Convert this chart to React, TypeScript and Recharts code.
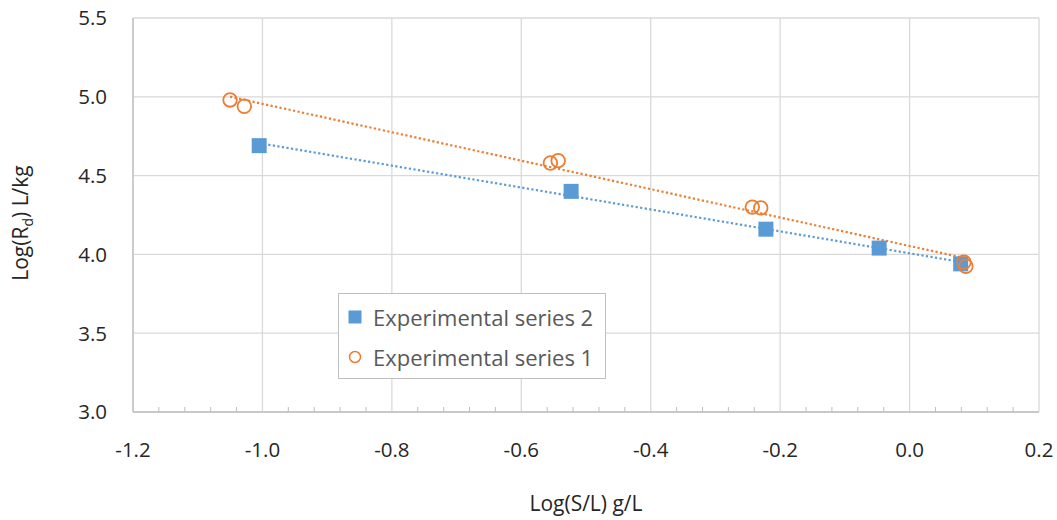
import React from 'react';
import { ScatterChart, Scatter, XAxis, YAxis, CartesianGrid, Legend } from 'recharts';

const series2Name = 'Experimental series 2';
const series2X = [-1.005, -0.523, -0.222, -0.047, 0.079];
const series2Y = [4.69, 4.4, 4.16, 4.04, 3.94];

const series1Name = 'Experimental series 1';
const series1X = [-1.05, -1.028, -0.555, -0.543, -0.243, -0.23, 0.084, 0.087];
const series1Y = [4.98, 4.94, 4.58, 4.595, 4.3, 4.295, 3.95, 3.925];

const xMajorTicks = [-1.2, -1.0, -0.8, -0.6, -0.4, -0.2, 0.0, 0.2];
const xMinorTicks = [
  -1.16, -1.12, -1.08, -1.04, -0.96, -0.92, -0.88, -0.84, -0.76, -0.72, -0.68, -0.64,
  -0.56, -0.52, -0.48, -0.44, -0.36, -0.32, -0.28, -0.24, -0.16, -0.12, -0.08, -0.04,
  0.04, 0.08, 0.12, 0.16,
];
const yTicks = [3.0, 3.5, 4.0, 4.5, 5.0, 5.5];

const xTitle = 'Log(S/L) g/L';
const yTitleMain = 'Log(R';
const yTitleSub = 'd';
const yTitleEnd = ') L/kg';

const BLUE = '#5B9BD5';
const ORANGE = '#ED7D31';
const FONT = '"Open Sans", sans-serif';
const TEXT = '#262626';
const TICK_MARGIN = 30;

const toPoints = (xs: number[], ys: number[]) => xs.map((x, i) => ({ x, y: ys[i] }));

// Linear least-squares trendline over the data range (like Excel's linear trendline)
const trend = (xs: number[], ys: number[]) => {
  const n = xs.length;
  const mx = xs.reduce((a, b) => a + b, 0) / n;
  const my = ys.reduce((a, b) => a + b, 0) / n;
  let sxy = 0;
  let sxx = 0;
  for (let i = 0; i < n; i++) {
    sxy += (xs[i] - mx) * (ys[i] - my);
    sxx += (xs[i] - mx) * (xs[i] - mx);
  }
  const b = sxy / sxx;
  const a = my - b * mx;
  const x0 = Math.min(...xs);
  const x1 = Math.max(...xs);
  return [
    { x: x0, y: a + b * x0 },
    { x: x1, y: a + b * x1 },
  ];
};

const data2 = toPoints(series2X, series2Y);
const data1 = toPoints(series1X, series1Y);
const trend2 = trend(series2X, series2Y);
const trend1 = trend(series1X, series1Y);
const allXTicks = [...xMajorTicks, ...xMinorTicks].sort((a, b) => a - b);

const isMajor = (v: number) => xMajorTicks.some((m) => Math.abs(m - v) < 1e-9);

const XTick = (props: any) => {
  const { x, y, payload } = props;
  const v = payload.value as number;
  const axisY = y - TICK_MARGIN;
  if (isMajor(v)) {
    return (
      <text x={x} y={y} dy="0.71em" textAnchor="middle" fontFamily={FONT} fontSize={20.5} fill={TEXT}>
        {v.toFixed(1)}
      </text>
    );
  }
  return <line x1={x} x2={x} y1={axisY} y2={axisY - 5} stroke="#bfbfbf" strokeWidth={1} />;
};

const YTick = (props: any) => {
  const { x, y, payload } = props;
  return (
    <text x={x} y={y} dy="0.36em" textAnchor="end" fontFamily={FONT} fontSize={20.5} fill={TEXT}>
      {(payload.value as number).toFixed(1)}
    </text>
  );
};

const SquareShape = (props: any) => {
  const { cx, cy } = props;
  return <rect x={cx - 7.5} y={cy - 7.5} width={15} height={15} fill={BLUE} />;
};

const CircleShape = (props: any) => {
  const { cx, cy } = props;
  return <circle cx={cx} cy={cy} r={6.8} fill="none" stroke={ORANGE} strokeWidth={1.8} />;
};

const NoShape = () => <g />;

const LegendBox = () => (
  <div
    style={{
      width: 268,
      height: 86,
      boxSizing: 'border-box',
      border: '1px solid #bfbfbf',
      background: '#ffffff',
      paddingTop: 3,
      paddingLeft: 9,
      fontFamily: FONT,
      fontSize: 22,
      color: '#595959',
    }}
  >
    <div style={{ height: 40, display: 'flex', alignItems: 'center' }}>
      <svg width={14} height={14} style={{ marginRight: 11 }}>
        <rect x={0.5} y={0.5} width={13} height={13} fill={BLUE} />
      </svg>
      <span>{series2Name}</span>
    </div>
    <div style={{ height: 40, display: 'flex', alignItems: 'center' }}>
      <svg width={14} height={14} style={{ marginRight: 11 }}>
        <circle cx={7} cy={7} r={5.5} fill="none" stroke={ORANGE} strokeWidth={1.5} />
      </svg>
      <span>{series1Name}</span>
    </div>
  </div>
);

const XLabel = (props: any) => {
  const vb = props.viewBox || {};
  return (
    <text
      x={vb.x + vb.width / 2}
      y={vb.y + 99}
      textAnchor="middle"
      fontFamily={FONT}
      fontSize={21}
      fill={TEXT}
    >
      {xTitle}
    </text>
  );
};

const YLabel = (props: any) => {
  const vb = props.viewBox || {};
  const cx = vb.x + 28;
  const cy = vb.y + vb.height / 2 + 8;
  return (
    <text
      transform={`translate(${cx}, ${cy}) rotate(-90)`}
      textAnchor="middle"
      fontFamily={FONT}
      fontSize={21}
      fill={TEXT}
    >
      {yTitleMain}
      <tspan fontSize={14} dy={5}>
        {yTitleSub}
      </tspan>
      <tspan dy={-5}>{yTitleEnd}</tspan>
    </text>
  );
};

export default function App() {
  return (
    <div style={{ position: 'absolute', left: 0, top: 0, width: 1057, height: 520, background: '#fff' }}>
      <ScatterChart width={1057} height={520} margin={{ top: 18, right: 18, bottom: 0, left: 0 }}>
        <CartesianGrid stroke="#d9d9d9" strokeWidth={1.3} verticalValues={xMajorTicks} />
        <XAxis
          type="number"
          dataKey="x"
          domain={[-1.2, 0.2]}
          ticks={allXTicks}
          interval={0}
          allowDataOverflow
          height={108}
          tickSize={0}
          tickMargin={TICK_MARGIN}
          tickLine={false}
          axisLine={{ stroke: '#bfbfbf', strokeWidth: 1.3 }}
          tick={<XTick />}
          label={<XLabel />}
        />
        <YAxis
          type="number"
          dataKey="y"
          domain={[3, 5.5]}
          ticks={yTicks}
          interval={0}
          allowDataOverflow
          width={133}
          tickSize={0}
          tickMargin={26}
          tickLine={false}
          axisLine={{ stroke: '#bfbfbf', strokeWidth: 1.3 }}
          tick={<YTick />}
          label={<YLabel />}
        />
        <Legend
          layout="vertical"
          align="center"
          verticalAlign="middle"
          content={<LegendBox />}
          wrapperStyle={{ position: 'absolute', left: 338, top: 293, width: 268, height: 86 }}
        />
        <Scatter
          name="trend2"
          data={trend2}
          legendType="none"
          fill={BLUE}
          line={{ stroke: BLUE, strokeWidth: 2.2, strokeDasharray: '2.2 2.4' }}
          shape={<NoShape />}
          isAnimationActive={false}
        />
        <Scatter
          name="trend1"
          data={trend1}
          legendType="none"
          fill={ORANGE}
          line={{ stroke: ORANGE, strokeWidth: 2.2, strokeDasharray: '2.2 2.4' }}
          shape={<NoShape />}
          isAnimationActive={false}
        />
        <Scatter name={series2Name} data={data2} fill={BLUE} shape={<SquareShape />} isAnimationActive={false} />
        <Scatter name={series1Name} data={data1} fill={ORANGE} shape={<CircleShape />} isAnimationActive={false} />
      </ScatterChart>
    </div>
  );
}
